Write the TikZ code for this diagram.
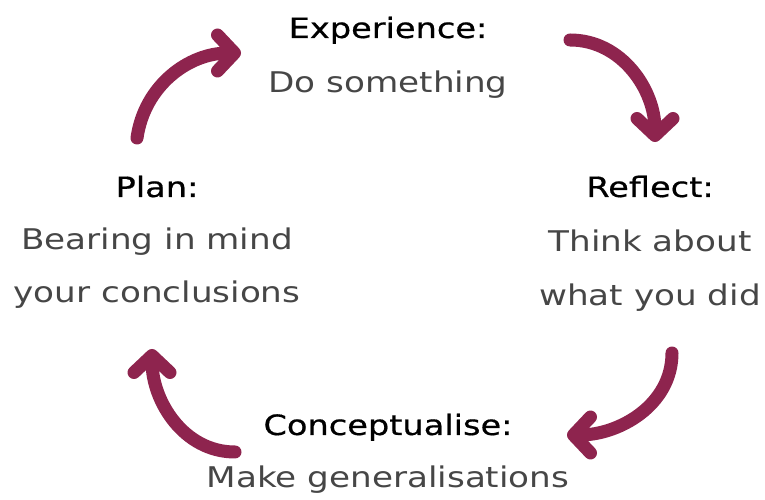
\documentclass[tikz,border=0pt]{standalone}
\usepackage{fontspec}
\setmainfont{DejaVu Sans}[FakeStretch=1.2]
\newfontfamily\titlefont{DejaVu Sans}[FakeStretch=1.2,FakeBold=0.6]
\usetikzlibrary{arrows.meta}
\definecolor{cycmaroon}{RGB}{142,36,78}
\definecolor{bodygray}{RGB}{70,70,70}
\begin{document}
\begin{tikzpicture}[x=1pt,y=1pt,
  titletext/.style={font=\titlefont\fontsize{28}{28}\selectfont, text=black, inner sep=0pt, anchor=base},
  bodytext/.style={font=\fontsize{28.5}{28.5}\selectfont, text=bodygray, inner sep=0pt, anchor=base},
  cyc/.style={draw=cycmaroon, line width=13pt, line cap=round,
    -{Straight Barb[length=17pt,width=36pt,round]}}]
\useasboundingbox (0,0) rectangle (765,500);
% Experience
\node[titletext] (exp) at (388,462) {Experience:};
\node[bodytext] (expb) at (388,407) {Do something};
% Reflect
\node[titletext] (ref) at (650,303) {Reflect:};
\node[bodytext] (refb1) at (650,248) {Think about};
\node[bodytext] (refb2) at (650,194) {what you did};
% Plan
\node[titletext] (plan) at (157,303) {Plan:};
\node[bodytext] (planb1) at (157,250) {Bearing in mind};
\node[bodytext] (planb2) at (157,197) {your conclusions};
% Conceptualise
\node[titletext] (con) at (388,65) {Conceptualise:};
\node[bodytext] (conb) at (388,12) {Make generalisations};
% arrow end points
\coordinate (a1s) at (137,362); \coordinate (a1e) at (241,447);
\coordinate (a2s) at (570,460); \coordinate (a2e) at (655,358);
\coordinate (a3s) at (672,147); \coordinate (a3e) at (567,65);
\coordinate (a4s) at (235,48);  \coordinate (a4e) at (152,151);
\draw[cyc] (a1s) to[out=82,in=180] (a1e);
\draw[cyc] (a2s) to[out=0,in=90] (a2e);
\draw[cyc] (a3s) to[out=-90,in=0] (a3e);
\draw[cyc] (a4s) to[out=180,in=-90] (a4e);
\end{tikzpicture}
\end{document}
